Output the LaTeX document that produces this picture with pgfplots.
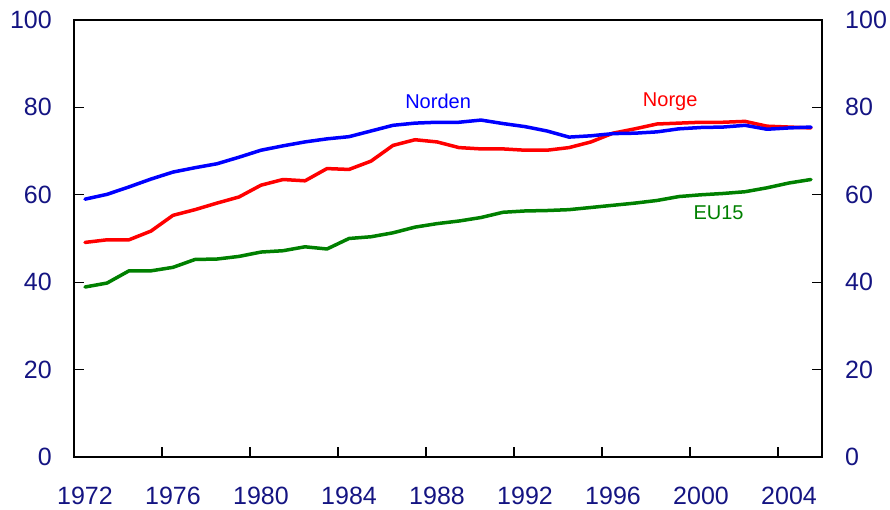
\documentclass[border=0pt]{standalone}
\usepackage{pgfplots}
\usepackage{pgfplotstable}
\pgfplotsset{compat=1.18}
\usepackage{fontspec}
\setmainfont{Liberation Sans}
\definecolor{navyt}{RGB}{20,20,130}
\definecolor{ngreen}{RGB}{0,128,0}

\pgfplotstableread{
year norden norge eu
1972 59.0 49.1 38.9
1973 60.1 49.7 39.8
1974 61.8 49.7 42.6
1975 63.6 51.7 42.6
1976 65.2 55.3 43.4
1977 66.2 56.6 45.2
1978 67.1 58.1 45.3
1979 68.6 59.5 45.9
1980 70.2 62.2 46.9
1981 71.2 63.5 47.2
1982 72.1 63.2 48.1
1983 72.8 66.0 47.6
1984 73.3 65.8 50.0
1985 74.6 67.7 50.4
1986 75.9 71.3 51.3
1987 76.4 72.6 52.6
1988 76.6 72.1 53.4
1989 76.6 70.8 54.0
1990 77.1 70.5 54.8
1991 76.3 70.5 56.0
1992 75.6 70.2 56.3
1993 74.6 70.2 56.4
1994 73.2 70.8 56.6
1995 73.5 72.1 57.1
1996 74.0 74.1 57.6
1997 74.1 75.1 58.1
1998 74.4 76.2 58.7
1999 75.1 76.4 59.6
2000 75.4 76.6 60.0
2001 75.5 76.6 60.3
2002 75.9 76.8 60.7
2003 75.0 75.7 61.6
2004 75.3 75.5 62.7
2005 75.5 75.3 63.5
}\data

\begin{document}
\begin{tikzpicture}
\begin{axis}[name=ax, scale only axis, width=748pt, height=437pt,
  xmin=1971.5, xmax=2005.5, ymin=0, ymax=100,
  ytick={0,20,40,60,80,100}, yticklabels={0,20,40,60,80,100},
  ytick pos=both,
  xtick={1972,1976,...,2004},
  xticklabels={1972,1976,1980,1984,1988,1992,1996,2000,2004},
  minor xtick={1975.5,1979.5,...,2003.5},
  xtick pos=bottom,
  tick align=inside, major tick length=10pt, minor tick length=10pt,
  tick style={black, line width=1.2pt},
  major x tick style={draw=none},
  axis line style={black, line width=1.2pt},
  ticklabel style={font=\fontsize{25}{30}\selectfont, text=navyt},
  yticklabel style={inner sep=0pt, xshift=-22pt},
  xticklabel style={inner sep=0pt, yshift=-30pt},
  clip=false,
  every axis plot/.append style={line join=round, line cap=round},
]
\addplot[ngreen, line width=3.5pt] table[x=year, y=eu] {\data};
\addplot[red, line width=3.5pt] table[x=year, y=norge] {\data};
\addplot[blue, line width=3.5pt] table[x=year, y=norden] {\data};
\node[text=blue, font=\fontsize{20}{24}\selectfont] at (axis cs:1988.05,81.4) {Norden};
\node[text=red, font=\fontsize{20}{24}\selectfont] at (axis cs:1998.6,81.4) {Norge};
\node[text=ngreen, font=\fontsize{20}{24}\selectfont] at (axis cs:2000.8,56.0) {EU15};
\end{axis}
\begin{axis}[at={(ax.south west)}, anchor=south west,
  scale only axis, width=748pt, height=437pt,
  xmin=1971.5, xmax=2005.5, ymin=0, ymax=100,
  hide x axis, axis y line*=right, y axis line style={draw=none},
  ytick={0,20,40,60,80,100}, yticklabels={0,20,40,60,80,100},
  major tick length=0pt,
  ticklabel style={font=\fontsize{25}{30}\selectfont, text=navyt},
  yticklabel style={inner sep=0pt, xshift=23pt},
]
\end{axis}
\pgfresetboundingbox
\path ([xshift=-74pt,yshift=-53pt]ax.south west) rectangle ([xshift=68pt,yshift=20pt]ax.north east);
\end{tikzpicture}
\end{document}
